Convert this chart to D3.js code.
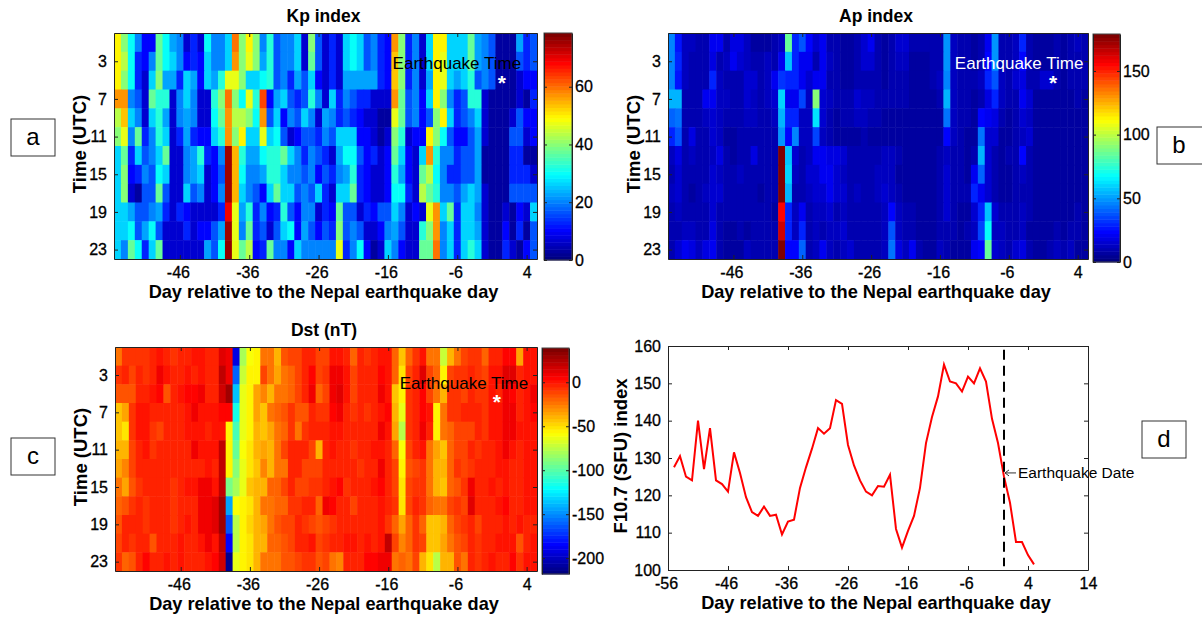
<!DOCTYPE html>
<html>
<head>
<meta charset="utf-8">
<script src="https://cdn.jsdelivr.net/npm/d3@7"></script>
<style>
html, body { margin: 0; padding: 0; background: #fff; }
svg { display: block; }
text { font-family: "Liberation Sans", Arial, sans-serif; fill: #000; }
.tick text { font-size: 16px; stroke: #000; stroke-width: 0.3px; }
.domain, .tick line { stroke: #222; }
</style>
</head>
<body>
<svg id="chart" width="1202" height="617"></svg>
<script>
var days = d3.range(-55, 6);
var hours = d3.range(1, 24, 2);
var dayTicks = [-46, -36, -26, -16, -6, 4];
var hourTicks = [3, 7, 11, 15, 19, 23];

// one row per two-hour bin, one column per day
var kpValues = [
[50,40,30,20,10,10,37,30,23,20,7,13,7,30,20,20,27,60,40,50,40,20,33,17,20,20,27,7,40,17,7,13,7,27,30,27,17,20,13,10,57,40,13,20,7,27,50,50,27,27,27,37,23,20,17,3,3,3,23,13,17],
[50,43,30,13,10,20,37,30,27,20,10,13,10,27,20,20,27,57,40,47,40,23,33,17,20,20,27,7,37,17,7,13,7,27,30,27,17,20,13,10,53,40,13,20,7,27,50,47,27,27,27,37,23,20,17,3,3,3,17,13,17],
[50,40,30,13,7,27,40,23,23,13,27,23,10,27,23,33,47,47,40,27,27,30,33,17,20,13,23,17,27,10,7,13,7,23,23,23,23,23,13,10,53,40,13,20,7,23,50,47,27,23,27,33,17,20,17,3,3,3,7,10,10],
[57,57,20,17,7,37,33,33,7,20,27,20,7,7,33,40,60,40,30,47,33,63,10,23,27,17,13,17,33,20,7,27,13,20,17,13,13,7,7,7,57,37,17,20,10,27,50,40,20,13,17,33,33,7,3,3,3,3,7,3,13],
[43,53,27,20,7,27,33,23,7,20,23,20,7,7,30,37,57,43,43,40,30,57,17,27,10,20,17,27,20,7,23,20,13,17,13,10,7,7,3,3,47,37,17,20,10,17,40,50,27,13,17,20,27,7,3,3,3,7,17,10,10],
[40,47,20,37,13,20,33,27,7,13,23,13,10,10,27,33,57,40,50,27,27,47,27,30,17,7,10,17,17,13,20,17,27,27,27,10,10,7,3,7,40,33,7,10,10,50,40,30,17,10,10,17,23,7,3,3,3,17,17,7,10],
[27,37,13,27,17,20,27,37,7,7,20,23,33,13,10,20,75,55,33,23,23,30,33,33,37,27,20,13,20,17,13,7,23,30,30,17,10,13,7,10,37,27,10,7,27,57,33,20,20,13,17,17,23,3,3,3,3,13,13,3,3],
[27,40,10,13,20,17,30,27,7,7,20,23,27,7,10,17,75,55,30,20,20,23,33,33,27,20,20,17,20,10,17,13,20,23,33,13,10,7,7,10,33,23,10,7,37,43,30,20,13,13,17,17,23,3,3,3,3,13,13,13,7],
[27,40,7,3,17,17,37,17,7,7,27,17,20,7,10,20,75,55,27,20,17,10,27,37,27,27,17,20,17,27,13,7,27,27,37,13,10,7,7,10,30,30,13,7,43,37,33,20,20,17,23,27,23,7,3,3,3,17,17,17,17],
[27,27,23,17,17,20,23,13,7,13,10,7,7,7,7,13,70,47,23,33,13,20,10,13,33,17,10,20,20,7,13,10,37,17,17,7,13,10,17,17,27,20,7,10,7,47,57,27,37,13,27,27,20,7,3,3,7,3,10,7,27],
[27,27,30,17,23,30,17,7,7,7,13,7,10,10,17,23,75,47,20,37,13,17,7,17,27,30,10,23,17,10,17,13,40,17,20,17,7,7,10,20,23,17,7,7,33,40,57,20,27,13,27,27,23,7,3,3,10,3,13,3,17],
[27,20,37,30,13,27,37,7,7,7,7,7,7,23,17,30,77,47,37,43,10,13,37,20,20,10,27,20,20,20,20,20,47,13,20,30,10,3,7,27,20,10,7,7,37,37,60,20,27,13,27,33,27,7,3,3,13,7,3,10,17]
];

var apValues = [
[45,27,12,12,9,9,20,20,9,18,18,12,8,8,8,9,12,85,30,38,25,15,20,10,9,8,8,10,14,20,10,8,9,15,15,10,10,9,9,10,50,12,10,9,8,9,22,48,10,10,12,30,10,8,8,8,9,8,9,12,9],
[45,30,12,10,9,9,18,9,12,20,15,12,9,10,12,9,20,58,30,20,20,10,20,12,9,8,8,10,14,16,10,8,9,12,12,8,8,8,9,10,50,12,10,9,8,9,25,48,10,10,12,25,10,8,8,8,9,8,9,10,9],
[45,27,12,10,9,9,28,12,9,9,10,15,15,10,12,20,32,30,28,20,15,20,22,10,9,8,8,10,10,10,9,8,9,10,10,8,8,8,9,12,45,12,10,9,10,12,30,38,12,10,15,18,10,10,14,14,9,8,9,10,9],
[55,55,10,10,9,20,20,12,12,9,10,15,12,10,12,15,60,20,20,35,12,90,14,12,9,9,10,16,12,12,10,9,9,10,9,8,8,7,8,9,55,12,10,9,8,10,18,28,12,9,10,20,16,8,7,7,7,7,7,9,8],
[40,42,10,10,9,12,14,12,9,9,9,12,12,9,10,12,55,30,30,12,12,62,14,10,8,9,9,12,12,9,9,8,8,8,8,8,7,7,7,8,42,12,9,9,8,25,20,18,10,8,9,15,12,7,7,7,7,7,7,7,7],
[28,38,10,18,9,9,16,12,8,8,9,10,10,9,9,10,50,25,45,12,12,35,12,9,8,8,8,8,9,8,8,8,8,8,7,7,6,6,7,7,25,12,9,8,8,42,15,15,8,8,9,12,14,7,6,6,7,7,8,7,7],
[12,18,10,12,10,9,12,18,9,8,9,9,18,9,9,9,178,58,15,10,12,20,22,18,18,16,10,10,10,9,10,13,12,10,8,7,7,7,8,9,12,10,9,8,10,55,14,10,8,9,10,25,10,7,7,7,7,7,7,7,7],
[10,16,9,10,9,10,14,12,9,10,12,10,10,9,9,9,178,60,13,10,16,15,20,20,16,12,10,10,10,9,12,12,12,8,8,7,7,7,8,9,14,10,9,8,22,40,14,9,8,8,9,12,9,7,6,6,7,7,7,7,7],
[12,14,9,7,9,12,14,14,9,9,10,9,9,8,9,9,178,55,10,10,13,16,16,22,15,16,10,12,9,9,13,14,12,9,8,8,7,7,8,10,14,10,9,9,30,22,14,9,8,8,9,10,9,7,6,6,7,7,7,8,7],
[9,12,10,10,9,9,14,9,9,9,9,9,10,9,9,8,155,28,12,22,10,12,12,16,10,13,9,9,9,9,9,12,25,12,9,9,7,7,7,9,14,9,8,8,15,30,58,14,10,9,10,12,9,7,6,6,7,8,8,10,7],
[9,10,12,12,10,9,18,9,8,8,9,8,10,9,9,9,165,28,12,28,10,12,10,13,12,14,10,9,9,9,10,12,38,12,10,9,7,8,8,9,10,9,8,9,13,35,68,13,12,9,10,12,8,7,7,7,9,8,9,9,7],
[10,14,20,18,12,18,22,9,8,8,8,12,9,9,9,9,178,25,24,40,10,12,20,12,10,12,14,10,10,9,9,12,42,18,12,20,9,8,8,12,10,8,8,8,22,24,85,14,12,10,14,18,10,7,7,9,12,9,12,8,7]
];

var dstValues = [
[-22,-7,-7,-7,-7,-5,2,-2,-7,-5,-3,2,2,-3,-3,14,8,-190,-80,-60,-55,-24,-24,-38,-15,-10,-10,-3,-5,-13,-13,0,0,-5,-18,-3,-7,-3,2,0,-18,-45,-18,-7,0,-24,-24,-70,-40,-22,-13,-7,-7,-18,-3,-3,6,6,-35,0,0],
[-7,-5,-13,-5,-7,-2,8,2,-3,-3,0,-3,2,-3,-5,22,8,-160,-70,-55,-55,-13,-24,-35,-22,-18,-13,-3,6,-10,-7,8,10,0,-13,-3,-5,-2,4,0,-18,-50,-13,-3,12,-10,-18,-55,-10,-7,-7,-5,-7,-13,0,0,12,12,-3,0,2],
[-15,-15,-15,-2,-3,0,4,-15,-2,0,4,3,8,-2,-5,17,28,-135,-65,-55,-35,-26,-38,-24,-22,-18,-10,-2,8,-18,-10,10,12,0,-10,-3,-5,-2,8,0,-45,-55,-7,-5,4,-13,-24,-40,-7,-7,-13,-5,-7,-7,0,-2,8,6,-3,0,8],
[-45,-35,-7,2,2,-5,-5,-3,-2,-5,2,10,2,2,2,4,6,-115,-65,-55,-35,-45,-24,-18,-15,-7,-15,-15,-5,-7,-7,6,8,-5,-7,-3,-7,-5,2,4,-40,-62,-7,-5,4,0,-55,-24,-7,-7,-3,-5,-3,-7,0,0,8,8,-2,0,4],
[-45,-50,-7,0,0,-7,-10,-2,-3,-3,2,2,0,-2,2,2,-55,-105,-65,-55,-40,-45,-35,-22,-18,-7,-24,-7,-3,-5,-5,0,2,-2,-3,-5,-3,-2,8,0,-35,-75,-7,-3,8,-3,-55,-22,-18,-10,-10,-13,-5,-7,0,2,10,10,0,0,0],
[-38,-40,-10,-2,0,-7,-3,-2,-3,-5,-2,8,2,2,2,22,-55,-95,-60,-50,-40,-35,-38,-24,-13,-5,-5,-2,-13,-40,-5,0,-3,-2,-7,-3,-2,0,0,-5,-18,-60,-10,-3,0,-22,-35,-45,-18,-10,-13,-5,-7,-5,-3,0,8,0,-3,0,2],
[-35,-26,-13,-5,-5,-5,-3,-2,-5,-5,-2,-2,-5,0,-3,20,-55,-88,-65,-50,-42,-26,-38,-24,-22,-3,-3,-10,-13,-13,-3,-2,-2,-5,-3,-7,-2,-2,8,-2,-10,-55,-15,-13,-7,-24,-40,-40,-18,-7,-10,-7,-3,-5,-3,0,0,-2,-2,0,2],
[-22,-35,-15,-7,-5,-3,-3,-5,-7,-3,2,2,8,8,2,20,-90,-80,-62,-45,-40,-38,-18,-18,-10,-2,-10,-13,-7,-7,-3,2,6,-7,-3,-2,-5,0,6,-3,-13,-52,-10,-7,-7,-24,-38,-42,-18,-15,-7,8,-5,-5,0,-2,0,-5,-5,0,0],
[-18,-15,-7,-3,-7,-5,-2,-2,-7,-3,-2,-5,10,8,14,30,-145,-60,-55,-50,-40,-24,-22,-18,-18,-7,-7,-5,-5,-18,8,6,-5,-3,-10,-5,-5,-2,0,-3,-7,-50,-13,-5,-7,-18,-24,-24,-13,-7,-13,12,-2,-3,-5,0,4,-2,-2,0,0],
[-15,-5,-5,-2,-7,-5,-2,-5,-7,-3,2,-2,10,10,14,28,-165,-75,-55,-48,-40,-35,-22,-15,-10,-13,-5,-7,-13,-15,-13,-7,-5,-2,-2,-3,-2,-2,0,-7,-18,-35,-18,-7,-18,-45,-45,-40,-18,-13,-7,-2,-10,-5,-2,-2,0,-3,0,-5,-2],
[-10,-3,-7,-2,-3,-15,-3,-2,-5,0,-3,-2,0,8,0,22,-185,-75,-55,-50,-38,-38,-18,-18,-15,-10,-2,-3,0,-13,-7,-2,-5,0,0,-5,2,-2,0,22,-13,-26,-18,-7,-13,-45,-45,-35,-22,-15,-13,-5,-7,-3,-3,0,0,2,-15,-5,0],
[-7,-18,-15,-2,4,-5,-5,0,-5,2,-2,-3,-2,0,6,17,-210,-65,-55,-50,-38,-24,-22,-22,-15,-15,-10,-7,-7,-15,-13,-24,-26,-5,-5,-2,6,6,10,8,-24,-18,-22,-10,-40,-50,-75,-40,-38,-15,-24,-5,-7,-2,0,-2,-5,6,-7,0,2]
];

var f107Values = [127.5,130.5,125,124,140,127,138,124,123,121,131.5,126,119.5,115.5,114.5,117,114.5,114.8,109.5,113,113.5,122,127.5,132.5,138,136.5,138,145.5,144.5,133.5,128,124,121,120,122.5,122.3,125.5,111,106,110.5,114.5,122,134,141,146.5,155,150.5,150,147.8,151.8,150,154,150.5,140.5,134,125,118,107.5,107.5,104,101.5];

var svg = d3.select('#chart');

// MATLAB jet, 64 levels
function jet(t) {
	var level = Math.min(63, Math.max(0, Math.floor(t * 64))) / 63;
	function channel(c) {
		return Math.round(255 * Math.max(0, Math.min(1, 1.5 - Math.abs(4 * level - c))));
	}
	return 'rgb(' + channel(3) + ',' + channel(2) + ',' + channel(1) + ')';
}

function plain(d) {
	return String(d); // hyphen, not d3's unicode minus
}

function addLabels(box, xLabel, yLabel, yLabelX) {
	svg.append('text')
		.attr('x', (box.left + box.right) / 2 - 2)
		.attr('y', box.bottom + 38.5)
		.attr('text-anchor', 'middle')
		.style('font-size', '18.2px')
		.style('font-weight', 'bold')
		.text(xLabel);
	svg.append('text')
		.attr('transform', 'translate(' + yLabelX + ',' + ((box.top + box.bottom) / 2 - 2) + ') rotate(-90)')
		.attr('text-anchor', 'middle')
		.style('font-size', '18.5px')
		.style('font-weight', 'bold')
		.text(yLabel);
}

// inward ticks on all four sides, labels only bottom and left
function addAxes(box, x, y, xTicks, yTicks) {
	var g = svg.append('g');
	g.append('g').attr('transform', 'translate(0,' + box.bottom + ')')
		.call(d3.axisBottom(x).tickValues(xTicks).tickSize(-4).tickSizeOuter(0).tickPadding(8).tickFormat(plain))
		.selectAll('text').attr('dx', function(d) { return d < 0 ? -2 : 0; });
	g.append('g').attr('transform', 'translate(0,' + box.top + ')')
		.call(d3.axisTop(x).tickValues(xTicks).tickSize(-4).tickSizeOuter(0).tickFormat(''));
	g.append('g').attr('transform', 'translate(' + box.left + ',0)')
		.call(d3.axisLeft(y).tickValues(yTicks).tickSize(-4).tickSizeOuter(0).tickPadding(7).tickFormat(plain));
	g.append('g').attr('transform', 'translate(' + box.right + ',0)')
		.call(d3.axisRight(y).tickValues(yTicks).tickSize(-4).tickSizeOuter(0).tickFormat(''));
}

function drawHeatmap(opts) {
	var box = opts.box;
	var x = d3.scaleLinear().domain([-55.5, 5.5]).range([box.left, box.right]);
	var y = d3.scaleLinear().domain([0, 24]).range([box.top, box.bottom]);
	var colour = d3.scaleLinear().domain(opts.range).range([0, 1]).clamp(true);

	var cells = [];
	opts.values.forEach(function(row, r) {
		row.forEach(function(v, c) {
			cells.push({day: days[c], hour: hours[r], value: v});
		});
	});
	svg.append('g').selectAll('rect').data(cells).enter().append('rect')
		.attr('x', function(d) { return x(d.day - 0.5); })
		.attr('y', function(d) { return y(d.hour - 1); })
		.attr('width', x(1) - x(0) + 0.5)
		.attr('height', y(2) - y(0) + 0.5)
		.attr('fill', function(d) { return jet(colour(d.value)); });

	addAxes(box, x, y, dayTicks, hourTicks);

	// title, annotation
	svg.append('text')
		.attr('x', (box.left + box.right) / 2 - 2)
		.attr('y', box.top - 11.5)
		.attr('text-anchor', 'middle')
		.style('font-size', '17.5px')
		.style('font-weight', 'bold')
		.text(opts.title);
	svg.append('text')
		.attr('x', x(0) + opts.noteDx)
		.attr('y', y(3) + opts.noteDy)
		.attr('text-anchor', 'middle')
		.style('fill', opts.noteColour)
		.style('font-size', '17px')
		.text('Earthquake Time');
	svg.append('text')
		.attr('x', x(0) + opts.starDx)
		.attr('y', y(5) + opts.starDy)
		.attr('text-anchor', 'middle')
		.style('fill', '#fff')
		.style('font-size', '21px')
		.style('font-weight', 'bold')
		.text('*');

	addLabels(box, 'Day relative to the Nepal earthquake day', 'Time (UTC)', box.left - 28);

	// colour bar
	var bar = opts.bar;
	var barY = d3.scaleLinear().domain(opts.range).range([bar.bottom, bar.top]);
	var levels = d3.range(64);
	var levelH = (bar.bottom - bar.top) / 64;
	svg.append('g').selectAll('rect').data(levels).enter().append('rect')
		.attr('x', bar.left)
		.attr('y', function(d) { return bar.bottom - (d + 1) * levelH; })
		.attr('width', bar.right - bar.left)
		.attr('height', levelH + 0.5)
		.attr('fill', function(d) { return jet((d + 0.5) / 64); });
	svg.append('rect')
		.attr('x', bar.left).attr('y', bar.top)
		.attr('width', bar.right - bar.left).attr('height', bar.bottom - bar.top)
		.attr('fill', 'none')
		.attr('stroke', '#444');
	var barG = svg.append('g');
	barG.append('g').attr('transform', 'translate(' + bar.right + ',0)')
		.call(d3.axisRight(barY).tickValues(opts.barTicks).tickSize(-3).tickSizeOuter(0).tickPadding(3).tickFormat(plain));
	barG.append('g').attr('transform', 'translate(' + bar.left + ',0)')
		.call(d3.axisLeft(barY).tickValues(opts.barTicks).tickSize(-3).tickSizeOuter(0).tickFormat(''));
}

function drawF107(box) {
	var x = d3.scaleLinear().domain([-56, 14]).range([box.left, box.right]);
	var y = d3.scaleLinear().domain([100, 160]).range([box.bottom, box.top]);
	var line = d3.line()
		.x(function(d, i) { return x(days[i]); })
		.y(function(d) { return y(d); });

	svg.append('path')
		.datum(f107Values)
		.attr('d', line)
		.attr('fill', 'none')
		.attr('stroke', '#f00')
		.attr('stroke-width', 2);

	addAxes(box, x, y, d3.range(-56, 15, 10), d3.range(100, 161, 10));

	svg.append('line')
		.attr('x1', x(0)).attr('x2', x(0))
		.attr('y1', y(159)).attr('y2', y(101))
		.attr('stroke', '#000')
		.attr('stroke-width', 2)
		.attr('stroke-dasharray', '10,6');

	// arrow pointing at the earthquake date
	svg.append('path')
		.attr('d', 'M' + (x(0) + 12) + ',' + y(126) + 'H' + (x(0) + 1) + 'l4,-3m-4,3l4,3')
		.attr('fill', 'none')
		.attr('stroke', '#333')
		.attr('stroke-width', 1);
	svg.append('text')
		.attr('x', x(0) + 14)
		.attr('y', y(126) + 5)
		.style('font-size', '15.5px')
		.text('Earthquake Date');

	addLabels(box, 'Day relative to the Nepal earthquake day', 'F10.7 (SFU) index', box.left - 41);
}

function drawTag(tag) {
	svg.append('rect')
		.attr('x', tag.x).attr('y', tag.y)
		.attr('width', tag.w).attr('height', 37)
		.attr('fill', '#fff')
		.attr('stroke', '#333')
		.attr('stroke-width', 1);
	svg.append('text')
		.attr('x', tag.x + 22).attr('y', tag.y + 26)
		.attr('text-anchor', 'middle')
		.style('font-size', '24px')
		.text(tag.label);
}

drawHeatmap({
	title: 'Kp index', values: kpValues, range: [0, 78.6], barTicks: [0, 20, 40, 60],
	box: {left: 114, right: 537, top: 33, bottom: 259},
	bar: {left: 544, right: 572, top: 33, bottom: 260},
	noteColour: '#000', noteDx: -42, noteDy: 8, starDx: 3, starDy: 10
});
drawHeatmap({
	title: 'Ap index', values: apValues, range: [0, 179], barTicks: [0, 50, 100, 150],
	box: {left: 668, right: 1088, top: 33, bottom: 259},
	bar: {left: 1093, right: 1120, top: 34, bottom: 262},
	noteColour: '#fff', noteDx: -31, noteDy: 8, starDx: 3, starDy: 10
});
drawHeatmap({
	title: 'Dst (nT)', values: dstValues, range: [-218, 39], barTicks: [0, -50, -100, -150, -200],
	box: {left: 115, right: 537, top: 347, bottom: 571},
	bar: {left: 542, right: 569, top: 348, bottom: 574},
	noteColour: '#000', noteDx: -35, noteDy: 13.5, starDx: -2, starDy: 15.7
});
drawF107({left: 668, right: 1088, top: 346, bottom: 570});

[{x: 11, y: 119, w: 44, label: 'a'}, {x: 1157, y: 127, w: 46, label: 'b'}, {x: 11, y: 438, w: 44, label: 'c'}, {x: 1142, y: 421, w: 44, label: 'd'}].forEach(drawTag);
</script>
</body>
</html>
